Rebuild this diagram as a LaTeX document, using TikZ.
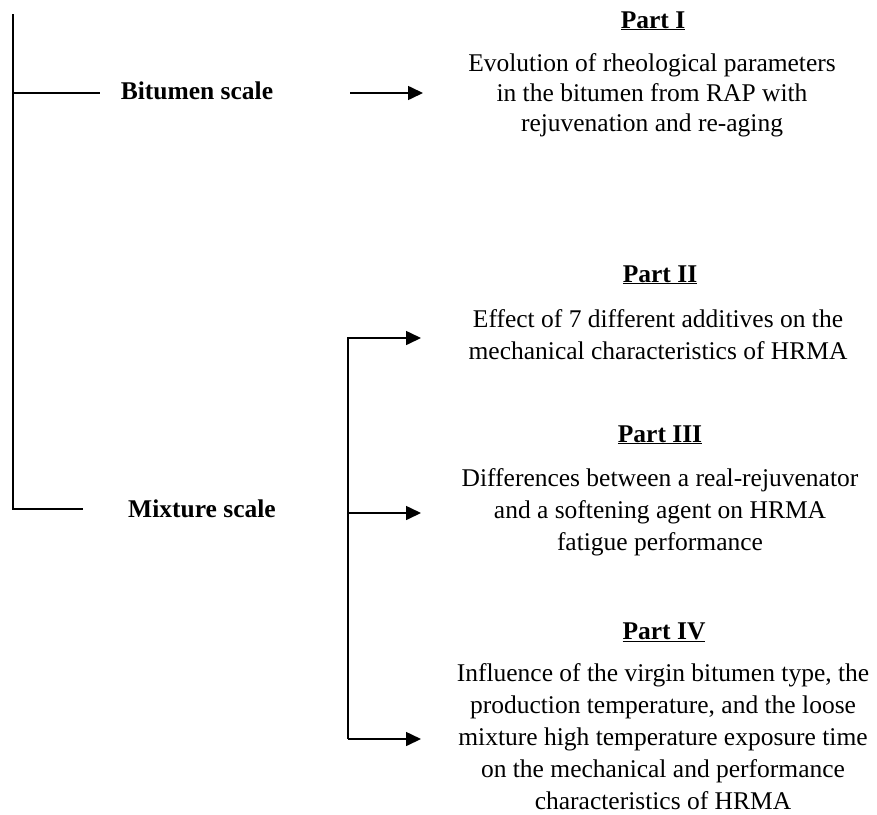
\documentclass[tikz,border=0pt]{standalone}
\usepackage{fontspec}
\setmainfont{Liberation Serif}
\usetikzlibrary{arrows.meta}
\begin{document}
\begin{tikzpicture}[x=1pt,y=-1pt,line width=1.6pt,>={Triangle[length=15pt,width=14pt]},
  scale label/.style={font=\fontsize{25.5}{31}\selectfont\bfseries,anchor=base,inner sep=0pt},
  part head/.style={font=\fontsize{25.5}{31}\selectfont\bfseries,anchor=base,inner sep=0pt},
  part text/.style={font=\fontsize{25.5}{32}\selectfont,align=center,anchor=north,inner sep=0pt}]
\useasboundingbox (0,0) rectangle (877,814);
% scales
\node[scale label] (bitumen) at (197,99) {Bitumen scale};
\node[scale label] (mixture) at (202,517) {Mixture scale};
% parts
\node[part head] (head1) at (653,28) {\underline{Part I}};
\node[part text,font=\fontsize{25.5}{30}\selectfont] (text1) at (652,52.6)
  {Evolution of rheological parameters\\in the bitumen from RAP with\\rejuvenation and re-aging};
\node[part head] (head2) at (660,282) {\underline{Part II}};
\node[part text] (text2) at (658,308.6)
  {Effect of 7 different additives on the\\mechanical characteristics of HRMA};
\node[part head] (head3) at (660,442) {\underline{Part III}};
\node[part text] (text3) at (660,467.6)
  {Differences between a real-rejuvenator\\and a softening agent on HRMA\\fatigue performance};
\node[part head] (head4) at (664,639) {\underline{Part IV}};
\node[part text] (text4) at (663,662.6)
  {Influence of the virgin bitumen type, the\\production temperature, and the loose\\mixture high temperature exposure time\\on the mechanical and performance\\characteristics of HRMA};
% left bracket
\coordinate (top) at (13,14);
\coordinate (bitL) at (100,93);
\coordinate (mixL) at (83,509);
\draw (top) |- (mixL);
\draw (top |- bitL) -- (bitL);
% bitumen arrow
\coordinate (bitA) at (350,93);
\coordinate (bitB) at (423,93);
\draw[->] (bitA) -- (bitB);
% mixture fork
\coordinate (in2) at (421,338);
\coordinate (in3) at (421,513);
\coordinate (in4) at (421,739);
\coordinate (fork) at (348,739);
\draw[->] (fork) |- (in2);
\draw[->] (in3 -| fork) -- (in3);
\draw[->] (fork) -- (in4);
\end{tikzpicture}
\end{document}
